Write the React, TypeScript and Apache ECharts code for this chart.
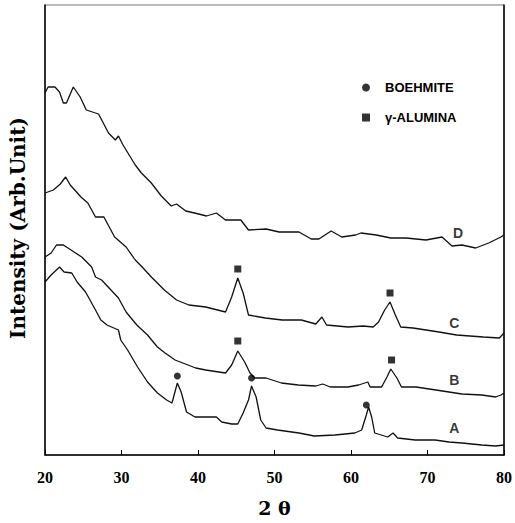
import React, { useEffect, useRef } from 'react';
import * as echarts from 'echarts';

// 2θ (deg), intensity (arb. units)
const curveA: [number, number][] = [[20,173],[20.8,180],[21.9,188],[22.5,183],[23.5,182],[24.2,173],[25.3,163],[26.6,145],[27.3,135],[28.1,130],[29.6,125],[29.9,115],[30.8,105],[32.1,88],[33.4,73],[34.7,62],[35.9,55],[36.6,52],[37.3,72],[37.8,63],[38.5,43],[39.6,38],[41.1,38],[42.4,38],[43.1,33],[44.4,31],[45.2,31],[45.9,42],[46.6,55],[47.0,69],[47.6,58],[48.2,35],[48.9,27],[50.4,25],[53.2,22],[55.2,19],[57.9,20],[60.5,22],[61.4,25],[62.0,40],[62.3,48],[62.7,38],[63.1,22],[64.8,18],[65.5,22],[66.1,17],[68.4,15],[71.0,15],[72.8,13],[74.5,12],[77.1,10],[78.9,9],[80,10]];
const curveB: [number, number][] = [[20,198],[20.8,202],[21.5,210],[22.4,210],[23.4,205],[24.8,198],[26.1,188],[26.6,178],[27.4,175],[29.6,157],[30.6,143],[32.0,130],[33.4,120],[34.7,108],[35.7,102],[37.0,95],[39.7,87],[41.0,85],[43.6,82],[44.4,90],[45.2,104],[46.1,93],[46.8,82],[47.4,77],[48.9,77],[50.9,72],[53.1,70],[55.4,69],[56.3,71],[57.3,68],[59.6,68],[61.0,70],[62.2,73],[62.5,68],[64.0,68],[64.7,78],[65.2,86],[66.0,77],[66.6,68],[68.5,68],[71.1,65],[72.8,63],[74.5,61],[77.1,60],[78.9,58],[79.6,60],[80,62]];
const curveC: [number, number][] = [[20,262],[21.1,265],[22.0,271],[22.7,278],[23.3,270],[24.7,258],[25.6,252],[26.6,238],[27.7,238],[29.1,218],[30.6,208],[31.8,195],[32.7,188],[33.9,178],[35.6,165],[37.2,155],[38.8,150],[41.0,148],[43.6,143],[44.4,158],[45.2,177],[45.9,162],[46.6,140],[48.8,137],[51.0,135],[53.5,135],[55.4,131],[56.2,138],[56.8,130],[59.6,128],[61.6,129],[62.9,128],[63.6,133],[64.4,145],[65.1,153],[65.8,140],[66.5,128],[68.1,127],[71.5,123],[73.8,120],[77.3,118],[79.4,117],[80,122]];
const curveD: [number, number][] = [[20,362],[20.4,368],[21.3,368],[21.9,363],[22.4,352],[22.8,352],[23.7,368],[24.6,358],[25.4,345],[27.0,341],[28.3,322],[29.2,315],[29.6,319],[30.2,310],[31.8,290],[32.6,282],[33.9,272],[35.2,259],[36.5,249],[37.2,251],[38.4,244],[40.1,241],[41.1,239],[42.4,242],[43.6,235],[45.6,235],[46.6,225],[48.9,226],[50.6,223],[53.2,223],[54.8,216],[55.8,216],[57.4,224],[58.8,218],[60.6,220],[61.3,222],[63.3,220],[65.2,217],[67.2,217],[69.8,215],[71.9,218],[73.2,209],[74.5,210],[76.3,207],[78.0,212],[79.6,218],[80,220]];

const boehmitePeaks: [number, number][] = [[37.3,79],[47.0,77],[62.0,50]];
const aluminaPeaks: [number, number][] = [[45.2,186],[65.1,162],[45.2,114],[65.3,95]];
const curveLabels: [number, number, string][] = [[74.0,222,'D'],[73.5,132,'C'],[73.5,75,'B'],[73.5,27,'A']];

const xTicks = { min: 20, max: 80, interval: 10 };
const legendNames = ['BOEHMITE', 'γ-ALUMINA'];

export default function App() {
  const ref = useRef<HTMLDivElement>(null);
  useEffect(() => {
    const chart = echarts.init(ref.current!, null, { renderer: 'svg' });
    const lineSeries = (name: string, data: [number, number][]) => ({
      name, type: 'line', data, symbol: 'none', showSymbol: false,
      lineStyle: { color: '#111', width: 1.3 }, z: 3,
    });
    chart.setOption({
      animation: false,
      backgroundColor: '#fff',
      grid: { left: 45, right: 11, top: 5, bottom: 68, show: true, borderColor: '#777', borderWidth: 1 },
      xAxis: {
        type: 'value', min: xTicks.min, max: xTicks.max, interval: xTicks.interval,
        axisLine: { show: true, lineStyle: { color: '#000', width: 1.5 } },
        axisTick: { inside: true, length: 5, lineStyle: { color: '#000' } },
        axisLabel: { color: '#000', fontFamily: 'Liberation Serif', fontWeight: 'bold', fontSize: 16, margin: 14 },
        splitLine: { show: false },
        name: '2 θ', nameLocation: 'middle', nameGap: 43,
        nameTextStyle: { color: '#000', fontFamily: 'DejaVu Serif', fontWeight: 'bold', fontSize: 19 },
      },
      yAxis: [
        { type: 'value', min: 0, max: 450, axisLine: { show: true, lineStyle: { color: '#000', width: 1.5 } }, axisTick: { show: false }, axisLabel: { show: false }, splitLine: { show: false } },
        { type: 'value', position: 'right', min: 0, max: 450, axisLine: { show: true, lineStyle: { color: '#000', width: 1.5 } }, axisTick: { show: false }, axisLabel: { show: false }, splitLine: { show: false } },
      ],
      legend: {
        orient: 'vertical', left: 357, top: 76, itemWidth: 8, itemHeight: 8, itemGap: 17,
        data: [{ name: legendNames[0], icon: 'circle' }, { name: legendNames[1], icon: 'rect' }],
        textStyle: { color: '#000', fontFamily: 'Liberation Sans', fontWeight: 'bold', fontSize: 13, padding: [0, 0, 0, 10] },
      },
      graphic: [
        { type: 'text', x: 18, y: 228, rotation: Math.PI / 2, style: { text: 'Intensity (Arb.Unit)', fill: '#000', fontFamily: 'DejaVu Serif', fontWeight: 'bold', fontSize: 20, align: 'center', verticalAlign: 'middle' } },
      ],
      series: [
        lineSeries('A', curveA),
        lineSeries('B', curveB),
        lineSeries('C', curveC),
        lineSeries('D', curveD),
        { name: legendNames[0], type: 'scatter', data: boehmitePeaks, symbol: 'circle', symbolSize: 7, itemStyle: { color: '#000' }, z: 4 },
        { name: legendNames[1], type: 'scatter', data: aluminaPeaks, symbol: 'rect', symbolSize: 7, itemStyle: { color: '#000' }, z: 4 },
        {
          name: 'labels', type: 'scatter', data: curveLabels, symbolSize: 1, itemStyle: { color: 'rgba(0,0,0,0)' },
          label: { show: true, position: 'inside', formatter: (p: any) => p.value[2], color: '#000', fontFamily: 'Liberation Sans', fontWeight: 'bold', fontSize: 14 },
        },
      ],
    });
    return () => chart.dispose();
  }, []);
  return <div ref={ref} style={{ position: 'fixed', left: 0, top: 0, width: 515, height: 523 }} />;
}
